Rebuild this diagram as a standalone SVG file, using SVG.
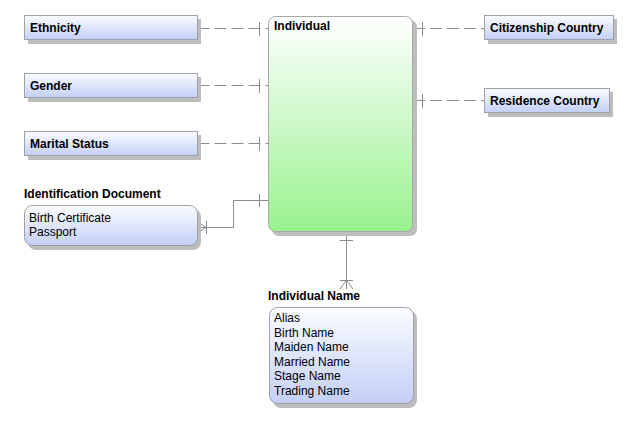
<svg xmlns="http://www.w3.org/2000/svg" width="628" height="433" viewBox="0 0 628 433">
<defs>
<linearGradient id="blue" x1="0" y1="0" x2="0" y2="1">
<stop offset="0" stop-color="#fbfcff"/>
<stop offset="1" stop-color="#c3cff6"/>
</linearGradient>
<linearGradient id="green" x1="0" y1="0" x2="0" y2="1">
<stop offset="0" stop-color="#ffffff"/>
<stop offset="1" stop-color="#98f28e"/>
</linearGradient>
<style>
text{font-family:"Liberation Sans",Arial,sans-serif;font-size:12px;fill:#000}
.b{font-weight:bold}
.sh{fill:#bdbdbd}
.box{fill:url(#blue);stroke:#a0a0a8;stroke-width:1}
.ind{fill:url(#green);stroke:#a8a8a8;stroke-width:1}
.c{fill:none;stroke:#8c8c8c;stroke-width:1}
.d{stroke-dasharray:12 5}
</style>
</defs>
<g id="connectors">
<path class="c d" d="M197.5 28.5H268"/>
<path class="c" d="M259.5 22V36"/>
<path class="c d" d="M197.5 85.5H268"/>
<path class="c" d="M259.5 79V93"/>
<path class="c d" d="M197.5 143.5H268"/>
<path class="c" d="M259.5 137V151"/>
<path class="c d" d="M413 28.5H484"/>
<path class="c" d="M422.5 22V36"/>
<path class="c d" d="M413 100.5H484"/>
<path class="c" d="M422.5 94V108"/>
<path class="c" d="M198 227.5H233.5V200.5H268"/>
<path class="c" d="M259.5 194V207"/>
<path class="c" d="M198 222L206 227.5L198 233M206.5 221V234"/>
<path class="c" d="M346.5 232V289"/>
<path class="c" d="M339.5 240.5H353"/>
<path class="c" d="M340 289L346.5 280L353 289M340 280.5H353"/>
</g>
<g id="ethnicity">
<rect class="sh" x="28" y="19" width="173" height="25"/>
<rect class="box" x="24.5" y="15.5" width="173" height="24"/>
<text class="b" x="30" y="32">Ethnicity</text>
</g>
<g id="gender">
<rect class="sh" x="28" y="77" width="173" height="25"/>
<rect class="box" x="24.5" y="73.5" width="173" height="24"/>
<text class="b" x="30" y="89.5">Gender</text>
</g>
<g id="marital-status">
<rect class="sh" x="28" y="135" width="173" height="25"/>
<rect class="box" x="24.5" y="131.5" width="173" height="24"/>
<text class="b" x="30" y="147.5">Marital Status</text>
</g>
<g id="citizenship-country">
<rect class="sh" x="488" y="19" width="129" height="25"/>
<rect class="box" x="484.5" y="15.5" width="129" height="24"/>
<text class="b" x="490" y="32">Citizenship Country</text>
</g>
<g id="residence-country">
<rect class="sh" x="488" y="92" width="125" height="25"/>
<rect class="box" x="484.5" y="88.5" width="125" height="24"/>
<text class="b" x="490" y="104.5">Residence Country</text>
</g>
<g id="individual">
<rect class="sh" x="272" y="20" width="145" height="216" rx="7"/>
<rect class="ind" x="268.5" y="16.5" width="144" height="215" rx="7"/>
<text class="b" x="274" y="30">Individual</text>
</g>
<g id="identification-document">
<text class="b" x="24" y="198">Identification Document</text>
<rect class="sh" x="28" y="209" width="173" height="41" rx="8"/>
<rect class="box" x="24.5" y="205.5" width="173" height="40" rx="8"/>
<text x="29" y="221.5">Birth Certificate</text>
<text x="29" y="236">Passport</text>
</g>
<g id="individual-name">
<text class="b" x="268" y="300">Individual Name</text>
<rect class="sh" x="273" y="311" width="144" height="97" rx="8"/>
<rect class="box" x="269.5" y="307.5" width="144" height="96" rx="8"/>
<text x="274" y="322">Alias</text>
<text x="274" y="336.5">Birth Name</text>
<text x="274" y="351">Maiden Name</text>
<text x="274" y="365.5">Married Name</text>
<text x="274" y="380">Stage Name</text>
<text x="274" y="394.5">Trading Name</text>
</g>
</svg>
